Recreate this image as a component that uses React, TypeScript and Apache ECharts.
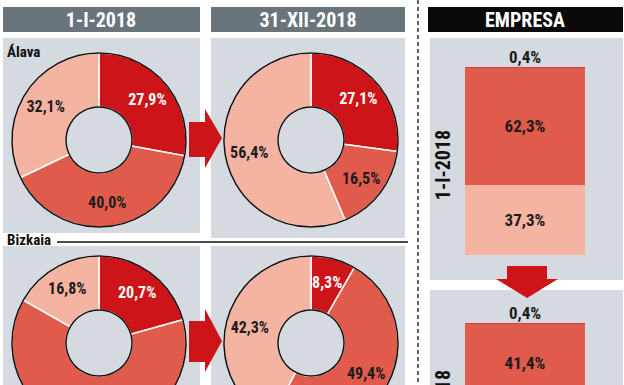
import React, { useEffect, useRef } from 'react';
import * as echarts from 'echarts';

// ---- data ----
const periods = ['1-I-2018', '31-XII-2018'];
const regions = ['Álava', 'Bizkaia'];
const segments = ['Segmento 1', 'Segmento 2', 'Segmento 3'];
const alavaStart = [27.9, 40.0, 32.1];
const alavaEnd = [27.1, 16.5, 56.4];
const bizkaiaStart = [20.7, 62.5, 16.8];
const bizkaiaEnd = [8.3, 49.4, 42.3];
const empresaTitle = 'EMPRESA';
const empresaStart = [0.4, 62.3, 37.3];
const empresaEnd = [0.4, 41.4, 58.2];

const COLORS = ['#cc1419', '#e05b4b', '#f5b4a2'];
const LABEL_COLORS = ['#ffffff', '#1c1c1c', '#1c1c1c'];
const PANEL = '#d4dadf';
const FONT = "'Liberation Sans Narrow', 'Arial Narrow', 'Roboto Condensed', 'Liberation Sans', sans-serif";

const fmt = (v: number) => v.toFixed(1).replace('.', ',') + '%';

function donut(values: number[], center: [number, number]) {
  const radius: [number, number] = [33, 87];
  return [
    {
      type: 'pie',
      center,
      radius,
      startAngle: 90,
      clockwise: true,
      silent: true,
      z: 3,
      itemStyle: { borderColor: '#ffffff', borderWidth: 1.5 },
      label: {
        show: true,
        position: 'inside',
        fontFamily: FONT,
        fontWeight: 'bold',
        fontSize: 16,
        formatter: (p: any) => fmt(p.value),
      },
      labelLine: { show: false },
      emphasis: { disabled: true },
      data: values.map((v, i) => ({
        name: segments[i],
        value: v,
        itemStyle: { color: COLORS[i] },
        label: { color: LABEL_COLORS[i] },
      })),
    },
    {
      type: 'pie',
      center,
      radius,
      silent: true,
      z: 4,
      label: { show: false },
      labelLine: { show: false },
      emphasis: { disabled: true },
      itemStyle: { color: 'rgba(0,0,0,0)', borderColor: '#111111', borderWidth: 1.5 },
      data: [{ name: 'outline', value: 100 }],
    },
  ];
}

function bars(values: number[], gridIndex: number) {
  // values: [dark, medium, light]; stack light at bottom
  const order = [2, 1, 0];
  return order.map((i) => ({
    type: 'bar',
    name: segments[i],
    stack: 'e' + gridIndex,
    xAxisIndex: gridIndex,
    yAxisIndex: gridIndex,
    barWidth: '100%',
    silent: true,
    itemStyle: { color: COLORS[i] },
    label: {
      show: true,
      position: i === 0 ? 'top' : 'inside',
      distance: 2,
      color: '#1c1c1c',
      fontFamily: FONT,
      fontWeight: 'bold',
      fontSize: 17,
      formatter: (p: any) => fmt(p.value),
    },
    data: [values[i]],
  }));
}

export default function App() {
  const ref = useRef<HTMLDivElement>(null);
  useEffect(() => {
    if (!ref.current) return;
    const chart = echarts.init(ref.current, undefined, { renderer: 'svg' });
    const headerText = (x: number, text: string) => ({
      type: 'text',
      x,
      y: 20,
      z: 5,
      style: {
        text,
        fill: '#ffffff',
        font: `bold 20px ${FONT}`,
        textAlign: 'center',
        textVerticalAlign: 'middle',
      },
    });
    const option: any = {
      animation: false,
      backgroundColor: '#ffffff',
      grid: [
        { left: 465, top: 67, width: 120, height: 188 },
        { left: 465, top: 323, width: 120, height: 188 },
      ],
      xAxis: [0, 1].map((g) => ({ type: 'category', gridIndex: g, data: [periods[g]], show: false })),
      yAxis: [0, 1].map((g) => ({ type: 'value', gridIndex: g, min: 0, max: 100, show: false })),
      graphic: [
        // headers
        { type: 'rect', z: 1, shape: { x: 3, y: 7, width: 197, height: 25 }, style: { fill: '#6a747b' } },
        { type: 'rect', z: 1, shape: { x: 211, y: 7, width: 194, height: 25 }, style: { fill: '#6a747b' } },
        { type: 'rect', z: 1, shape: { x: 428, y: 7, width: 195, height: 25 }, style: { fill: '#0a0a0a' } },
        headerText(101, periods[0]),
        headerText(308, periods[1]),
        headerText(525, empresaTitle),
        // panels
        { type: 'rect', z: 0, shape: { x: 3, y: 38, width: 197, height: 195 }, style: { fill: PANEL } },
        { type: 'rect', z: 0, shape: { x: 211, y: 38, width: 194, height: 200 }, style: { fill: PANEL } },
        { type: 'rect', z: 0, shape: { x: 3, y: 246, width: 197, height: 290 }, style: { fill: PANEL } },
        { type: 'rect', z: 0, shape: { x: 211, y: 246, width: 194, height: 290 }, style: { fill: PANEL } },
        { type: 'rect', z: 0, shape: { x: 430, y: 38, width: 193, height: 242 }, style: { fill: PANEL } },
        { type: 'rect', z: 0, shape: { x: 430, y: 290, width: 193, height: 250 }, style: { fill: PANEL } },
        // region labels
        {
          type: 'text', x: 7, y: 52, z: 5,
          style: { text: regions[0], fill: '#111', font: `bold 15px ${FONT}`, textAlign: 'left', textVerticalAlign: 'middle' },
        },
        {
          type: 'text', x: 7, y: 240, z: 5,
          style: { text: regions[1], fill: '#111', font: `bold 15px ${FONT}`, textAlign: 'left', textVerticalAlign: 'middle' },
        },
        { type: 'line', z: 5, shape: { x1: 57, y1: 242, x2: 408, y2: 242 }, style: { stroke: '#111', lineWidth: 1.5 } },
        // dashed separator
        { type: 'line', z: 5, shape: { x1: 418, y1: 0, x2: 418, y2: 540 }, style: { stroke: '#111', lineWidth: 1.3, lineDash: [4, 3] } },
        // rotated period labels
        {
          type: 'text', x: 443, y: 165, z: 5, rotation: Math.PI / 2,
          style: { text: periods[0], fill: '#111', font: `bold 20px ${FONT}`, textAlign: 'center', textVerticalAlign: 'middle' },
        },
        {
          type: 'text', x: 443, y: 370, z: 5, rotation: Math.PI / 2,
          style: { text: periods[1], fill: '#111', font: `bold 20px ${FONT}`, textAlign: 'right', textVerticalAlign: 'middle' },
        },
        // arrows
        {
          type: 'polygon', z: 10,
          shape: { points: [[189, 122], [205, 122], [205, 109], [222, 138], [205, 168], [205, 157], [189, 157]] },
          style: { fill: '#cc1419' },
        },
        {
          type: 'polygon', z: 10,
          shape: { points: [[189, 321], [205, 321], [205, 309], [222, 341], [205, 372], [205, 362], [189, 362]] },
          style: { fill: '#cc1419' },
        },
        {
          type: 'polygon', z: 10,
          shape: { points: [[507, 266], [547, 266], [547, 279], [558, 279], [527, 298], [496, 279], [507, 279]] },
          style: { fill: '#cc1419' },
        },
      ],
      series: [
        ...donut(alavaStart, [99, 140]),
        ...donut(alavaEnd, [311, 140]),
        ...donut(bizkaiaStart, [99, 343]),
        ...donut(bizkaiaEnd, [311, 343]),
        ...bars(empresaStart, 0),
        ...bars(empresaEnd, 1),
      ],
    };
    chart.setOption(option);
    return () => chart.dispose();
  }, []);
  return (
    <div style={{ position: 'absolute', left: 0, top: 0, width: 624, height: 385, overflow: 'hidden' }}>
      <div ref={ref} style={{ width: 624, height: 540 }} />
    </div>
  );
}
